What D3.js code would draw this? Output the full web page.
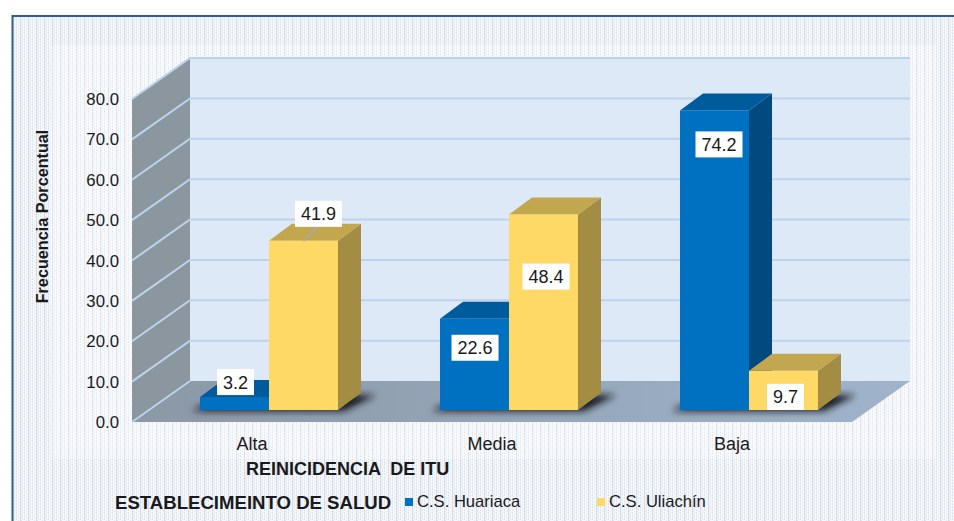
<!DOCTYPE html>
<html><head><meta charset="utf-8">
<script src="https://cdn.jsdelivr.net/npm/d3@7"></script>
<style>html,body{margin:0;padding:0;background:#fff}svg{display:block}text{font-family:"Liberation Sans",Arial,sans-serif;fill:#1a1a1a}</style>
</head><body><script>
const categories = ["Alta","Media","Baja"];
const seriesNames = ["C.S. Huariaca","C.S. Uliachín"];
const huariaca = [3.2,22.6,74.2];
const uliachin = [41.9,48.4,9.7];
const yTicks = [0,10,20,30,40,50,60,70,80];
const seriesValues = [huariaca, uliachin];
const frontColors = ["#0070c0","#ffd966"];
const topColors = ["#005b9c","#c2a74f"];
const sideColors = ["#004a80","#a38d42"];

const W=954,H=521;
const svg=d3.select("body").append("svg").attr("width",W).attr("height",H);
const defs=svg.append("defs");
function texture(id,bg,dark,light){
  const p=defs.append("pattern").attr("id",id).attr("width",8).attr("height",3).attr("patternUnits","userSpaceOnUse");
  p.append("rect").attr("width",8).attr("height",3).attr("fill",bg);
  [[0,0,dark],[0,2,light],[2,1,light],[4,0,dark],[4,1,dark],[4,2,dark],[5,1,light],[6,0,light],[6,2,light]].forEach(([a,b,c])=>
    p.append("rect").attr("x",a).attr("y",b).attr("width",1).attr("height",1).attr("fill",c));
}
texture("tex","#f5f7fa","#d3dcea","#e3e9f2");
texture("tex2","#f9fafc","#dfe5ef","#edf0f6");
const fg=defs.append("linearGradient").attr("id","floor");
fg.append("stop").attr("offset","0").attr("stop-color","#8b98a6");
fg.append("stop").attr("offset","1").attr("stop-color","#9fb4cb");
defs.append("filter").attr("id","blur").attr("x","-20%").attr("y","-60%").attr("width","140%").attr("height","220%")
  .append("feGaussianBlur").attr("stdDeviation",3.5);

svg.append("rect").attr("x",12).attr("y",16).attr("width",W).attr("height",H).attr("fill","url(#tex)");
svg.append("rect").attr("x",51).attr("y",45).attr("width",885).attr("height",414).attr("fill","url(#tex2)");
svg.append("path").attr("d",`M12.5,${H}V16H${W}`).attr("fill","none").attr("stroke","#2e5f8e").attr("stroke-width",2);

// 3D projection constants
const wall={dx:58,dy:-41}, base={dx:17,dy:-12}, depth={dx:23,dy:-17};
const x=d3.scaleBand().domain(categories).range([132,852]);
const inner=d3.scaleBand().domain([0,1]).range([0,138]);
const y=d3.scaleLinear().domain([0,80]).range([422,99]);
const poly=p=>"M"+p.map(q=>q.join(",")).join("L")+"Z";

const x0=x.range()[0],x1=x.range()[1],yb=y(0),yt=y(80);
svg.append("path").attr("d",poly([[x0+wall.dx,yt+wall.dy],[x1+wall.dx,yt+wall.dy],[x1+wall.dx,yb+wall.dy],[x0+wall.dx,yb+wall.dy]])).attr("fill","#dee9f8");
svg.append("path").attr("d",poly([[x0,yt],[x0+wall.dx,yt+wall.dy],[x0+wall.dx,yb+wall.dy],[x0,yb]])).attr("fill","#8c969e");
svg.append("path").attr("d",poly([[x0,yb],[x0+wall.dx,yb+wall.dy],[x1+wall.dx,yb+wall.dy],[x1,yb]])).attr("fill","url(#floor)");
svg.append("g").selectAll("path").data(yTicks).join("path")
  .attr("d",d=>d>0?`M${x0},${y(d)}L${x0+wall.dx},${y(d)+wall.dy}H${x1+wall.dx}`:`M${x0},${y(d)}L${x0+wall.dx},${y(d)+wall.dy}`)
  .attr("fill","none").attr("stroke","#bcd3ec").attr("stroke-width",2);

// floor shadows
const sh=svg.append("g").attr("filter","url(#blur)");
categories.forEach(c=>{
  const l=x(c)+x.bandwidth()/2-inner.bandwidth()+base.dx, r=l+inner.bandwidth()*2, by=yb+base.dy;
  sh.append("path").attr("d",poly([[l-8,by+1],[r+6,by+1],[r+depth.dx+15,by+depth.dy+2],[l+depth.dx,by+depth.dy+2]])).attr("fill","#15191d");
});

// bars
const bars=[];
categories.forEach((c,i)=>seriesValues.forEach((vals,s)=>bars.push({c,i,s,v:vals[i]})));
const bl=d=>x(d.c)+x.bandwidth()/2-inner.bandwidth()+inner(d.s)+base.dx;
const g=svg.append("g").selectAll("g").data(bars).join("g");
g.append("path").attr("fill",d=>sideColors[d.s]).attr("d",d=>{const r=bl(d)+inner.bandwidth(),t=y(d.v)+base.dy,b=yb+base.dy;
  return poly([[r,t],[r+depth.dx,t+depth.dy],[r+depth.dx,b+depth.dy],[r,b]]);});
g.append("path").attr("fill",d=>topColors[d.s]).attr("d",d=>{const l=bl(d),r=l+inner.bandwidth(),t=y(d.v)+base.dy;
  return poly([[l,t],[r,t],[r+depth.dx,t+depth.dy],[l+depth.dx,t+depth.dy]]);});
g.append("rect").attr("fill",d=>frontColors[d.s]).attr("x",bl).attr("width",inner.bandwidth())
  .attr("y",d=>y(d.v)+base.dy).attr("height",d=>y(0)-y(d.v));

// data labels: box centre relative to the top-centre of each bar's front face
const labelShift=[[[1,-15],[15,-27]],[[0.5,29],[2.5,62]],[[4.5,34],[2,26]]];
const fmt=d3.format(".1f");
const pos=d=>{const o=labelShift[d.i][d.s];return [bl(d)+inner.bandwidth()/2+o[0], y(d.v)+base.dy+o[1]];};
const leader=bars.find(d=>d.i===0&&d.s===1), lp=pos(leader);
svg.append("line").attr("x1",lp[0]).attr("y1",lp[1]+13).attr("x2",bl(leader)+inner.bandwidth()/2).attr("y2",y(leader.v)+base.dy)
  .attr("stroke","#a9a9a9").attr("stroke-width",1.5);
const lbl=svg.append("g").selectAll("g").data(bars).join("g").attr("transform",d=>`translate(${pos(d)})`);
lbl.append("rect").attr("x",d=>fmt(d.v).length>3?-23.5:-18.5).attr("width",d=>fmt(d.v).length>3?47:37)
  .attr("y",-13).attr("height",26).attr("fill","#fff");
lbl.append("text").attr("text-anchor","middle").attr("y",6.5).style("font-size","18px").text(d=>fmt(d.v));

// axis text
svg.append("g").selectAll("text").data(yTicks).join("text")
  .attr("x",119).attr("y",d=>y(d)+6).attr("text-anchor","end").style("font-size","16.8px").text(fmt);
svg.append("g").selectAll("text").data(categories).join("text")
  .attr("x",d=>x(d)+x.bandwidth()/2).attr("y",450).attr("text-anchor","middle").style("font-size","18px").text(d=>d);
svg.append("text").attr("transform","translate(48,216.5) rotate(-90)").attr("text-anchor","middle")
  .style("font-size","16.2px").style("font-weight","bold").text("Frecuencia Porcentual");
svg.append("text").attr("x",246).attr("y",475).style("font-size","18px").style("font-weight","bold").style("white-space","pre").text("REINICIDENCIA  DE ITU");
svg.append("text").attr("x",115).attr("y",509).style("font-size","18.6px").style("font-weight","bold").text("ESTABLECIMEINTO DE SALUD");
const legendX=[405,597];
seriesNames.forEach((n,i)=>{
  svg.append("rect").attr("x",legendX[i]).attr("y",498).attr("width",8).attr("height",8).attr("fill",frontColors[i]);
  svg.append("text").attr("x",legendX[i]+12).attr("y",507).style("font-size","16.6px").text(n);
});
</script></body></html>
